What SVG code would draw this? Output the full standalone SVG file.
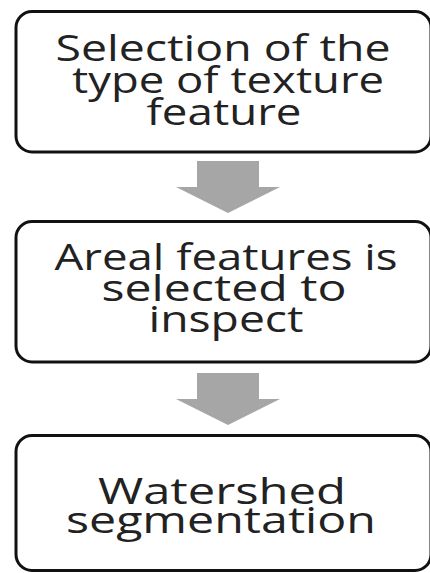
<svg xmlns="http://www.w3.org/2000/svg" width="430" height="573" viewBox="0 0 430 573">
<style>
.box{fill:#fff;stroke:#111;stroke-width:3}
.lbl{font-family:"Open Sans","Noto Sans","DejaVu Sans",sans-serif;font-size:36px;fill:#222;text-anchor:middle}
.arr{fill:#a6a6a6}
</style>
<rect width="430" height="573" fill="#fff"/>
<g id="connectors">
<path class="arr" d="M197,161 H259 V187 H280 L228,213 L176,187 H197 Z"/>
<path class="arr" d="M197,373 H259 V399 H280 L228,425 L176,399 H197 Z"/>
</g>
<g id="node1">
<rect class="box" x="16" y="11.5" width="415" height="140.5" rx="16"/>
<text class="lbl" x="223" y="61" textLength="335" lengthAdjust="spacingAndGlyphs">Selection of the</text>
<text class="lbl" x="228" y="93" textLength="312" lengthAdjust="spacingAndGlyphs">type of texture</text>
<text class="lbl" x="224" y="125" textLength="155" lengthAdjust="spacingAndGlyphs">feature</text>
</g>
<g id="node2">
<rect class="box" x="16" y="221.5" width="415" height="140.5" rx="16"/>
<text class="lbl" x="226" y="270" textLength="343" lengthAdjust="spacingAndGlyphs">Areal features is</text>
<text class="lbl" x="224" y="301" textLength="245" lengthAdjust="spacingAndGlyphs">selected to</text>
<text class="lbl" x="226" y="332" textLength="155" lengthAdjust="spacingAndGlyphs">inspect</text>
</g>
<g id="node3">
<rect class="box" x="16" y="435.5" width="415" height="135" rx="16"/>
<text class="lbl" x="222" y="504" textLength="248" lengthAdjust="spacingAndGlyphs">Watershed</text>
<text class="lbl" x="221" y="533" textLength="310" lengthAdjust="spacingAndGlyphs">segmentation</text>
</g>
</svg>
